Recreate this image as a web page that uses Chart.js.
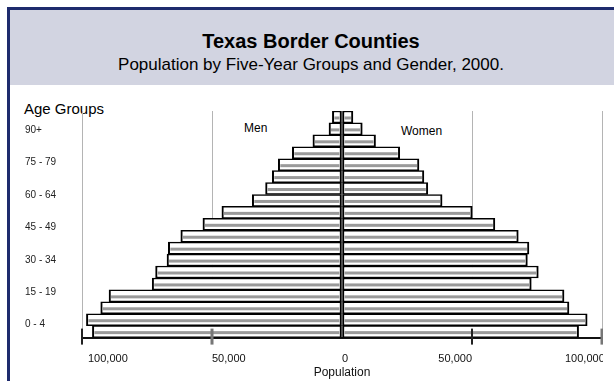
<!DOCTYPE html>
<html>
<head>
<meta charset="utf-8">
<script src="https://cdn.jsdelivr.net/npm/chart.js@4.4.1/dist/chart.umd.min.js"></script>
<style>
body { margin:0; background:#fff; width:614px; height:381px; overflow:hidden; position:relative;
       font-family: Arial, "Liberation Sans", sans-serif; color:#000; }
#frame { position:absolute; left:7px; top:7px; width:700px; height:500px;
         border-left:3px solid #1e2b6d; border-top:3px solid #1e2b6d; }
#head { position:absolute; left:10px; top:10px; width:700px; height:75px; background:#d2d4e1; }
.t { position:absolute; left:10px; width:602px; text-align:center; white-space:nowrap; }
#title { top:29px; font-size:20px; line-height:24px; font-weight:bold; }
#sub { top:55px; font-size:17px; line-height:20px; }
.lab { position:absolute; white-space:nowrap; }
#wrap { position:absolute; left:0; top:0; width:603px; height:381px; }
</style>
</head>
<body>
<div id="frame"></div>
<div id="head"></div>
<div class="t" id="title">Texas Border Counties</div>
<div class="t" id="sub">Population by Five-Year Groups and Gender, 2000.</div>
<div class="lab" style="left:24px; top:100px; font-size:15px; line-height:17px;">Age Groups</div>
<div class="lab" style="left:244px; top:121px; font-size:12px; line-height:14px;">Men</div>
<div class="lab" style="left:401px; top:124px; font-size:12px; line-height:14px;">Women</div>
<div id="wrap"><canvas id="chart_canvas"></canvas></div>
<script>
// age groups, bottom to top
var ageGroups = ['0 - 4', '5 - 9', '10 - 14', '15 - 19', '20 - 24', '25 - 29', '30 - 34',
    '35 - 39', '40 - 44', '45 - 49', '50 - 54', '55 - 59', '60 - 64', '65 - 69',
    '70 - 74', '75 - 79', '80 - 84', '85 - 89', '90+'];
var men = [96000, 98300, 92800, 89600, 73000, 71700, 67300, 66800, 62000, 53500,
    46200, 34500, 29400, 26800, 24500, 19100, 11200, 5000, 3700];
var women = [91000, 94300, 87300, 85400, 72800, 75500, 71300, 71900, 67800, 58800,
    50100, 38500, 33000, 31500, 29600, 22200, 12900, 7800, 4200];
var xTickValues = [-100000, -50000, 0, 50000, 100000];
var xTickLabels = ['100,000', '50,000', '0', '50,000', '100,000'];

Chart.defaults.font.family = 'Arial, "Liberation Sans", sans-serif';
Chart.defaults.color = '#222';

// grey band through the middle of each bar
var stripes = {
    id: 'stripes',
    afterDatasetsDraw(chart) {
        var ctx = chart.ctx;
        ctx.save();
        ctx.fillStyle = '#9a9a9a';
        chart.data.datasets.forEach(function(ds, i) {
            chart.getDatasetMeta(i).data.forEach(function(bar) {
                var left = Math.min(bar.x, bar.base) + 2;
                var right = Math.max(bar.x, bar.base) - 2;
                if (right > left) ctx.fillRect(left, bar.y - 0.5, right - left, 3);
            });
        });
        ctx.restore();
    }
};

// population labels and tick marks under the bars
var xLabels = {
    id: 'xLabels',
    afterDraw(chart) {
        var ctx = chart.ctx;
        var xs = chart.scales.x;
        var bottom = chart.chartArea.bottom;
        var aligns = ['left', 'left', 'center', 'right', 'left'];
        var shift = [6, 0, 3, 0, -37];
        var markColor = ['#222', '#777', null, '#222', '#777'];
        var markWidth = [2, 3, 0, 2, 3];
        ctx.save();
        ctx.font = '11px Arial, "Liberation Sans", sans-serif';
        ctx.textBaseline = 'middle';
        for (var i = 0; i < xTickValues.length; i++) {
            var px = xs.getPixelForValue(xTickValues[i]);
            if (markColor[i]) {
                ctx.fillStyle = markColor[i];
                ctx.fillRect(px - markWidth[i] / 2, bottom - 9, markWidth[i], 16);
            }
            ctx.fillStyle = '#111';
            ctx.textAlign = aligns[i];
            ctx.fillText(xTickLabels[i], px + shift[i], bottom + 21);
        }
        ctx.restore();
    }
};

var barStyle = {
    backgroundColor: '#ffffff',
    borderColor: '#000000',
    borderWidth: { top: 1.5, bottom: 1.5, left: 2, right: 2 },
    borderSkipped: false,
    barPercentage: 1,
    categoryPercentage: 1
};

var ctx = document.getElementById('chart_canvas').getContext('2d');
var myChart = new Chart(ctx, {
    type: 'bar',
    data: {
        labels: ageGroups,
        datasets: [
            Object.assign({ label: 'Men', data: men.map(function(v) { return -v; }) }, barStyle),
            Object.assign({ label: 'Women', data: women }, barStyle)
        ]
    },
    options: {
        indexAxis: 'y',
        responsive: true,
        maintainAspectRatio: false,
        animation: false,
        devicePixelRatio: 1,
        layout: { padding: { left: 25, right: 1, top: 111, bottom: 1 } },
        plugins: {
            colors: { enabled: false },
            legend: { display: false },
            tooltip: { enabled: false }
        },
        scales: {
            x: {
                type: 'linear',
                min: -100000,
                max: 100000,
                stacked: true,
                z: 1,
                ticks: { display: false, stepSize: 50000 },
                grid: {
                    color: function(c) { return c.tick && c.tick.value === 0 ? 'rgba(0,0,0,0)' : '#b4b4b4'; },
                    lineWidth: 1,
                    drawTicks: false
                },
                border: { display: true, color: '#111', width: 2 },
                title: { display: true, text: 'Population', color: '#111', font: { size: 12 },
                         padding: { top: 28, bottom: 0 } }
            },
            y: {
                type: 'category',
                display: false,
                reverse: true,
                stacked: true
            },
            yl: {
                type: 'linear',
                position: 'left',
                offset: false,
                min: -1.2,
                max: 19.76,
                afterBuildTicks: function(s) {
                    s.ticks = ageGroups.map(function(g, i) { return { value: i }; })
                        .filter(function(t) { return t.value % 3 === 0; });
                },
                afterFit: function(s) { s.width = 57; },
                ticks: {
                    callback: function(v) { return ageGroups[v]; },
                    crossAlign: 'far',
                    padding: 0,
                    autoSkip: false,
                    font: { size: 10 },
                    color: '#222'
                },
                grid: { display: false, offset: false },
                border: { display: false }
            }
        }
    },
    plugins: [stripes, xLabels]
});
</script>
</body>
</html>
